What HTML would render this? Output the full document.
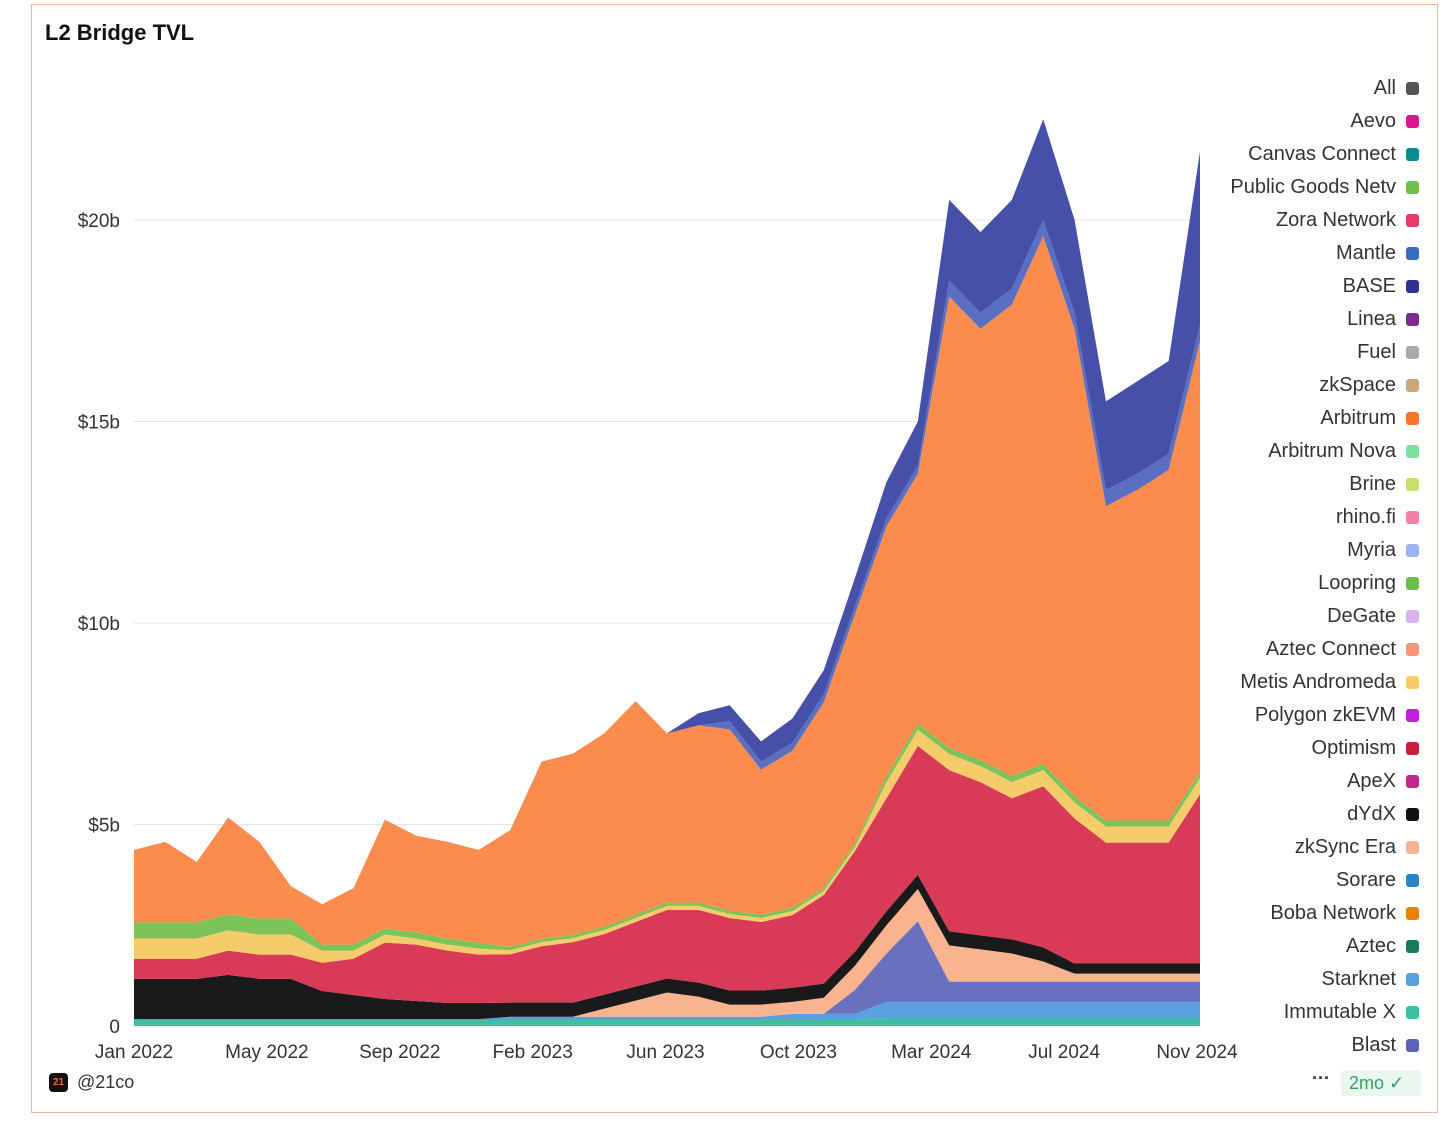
<!DOCTYPE html>
<html><head><meta charset="utf-8"><style>
body{margin:0;background:#fff;font-family:"Liberation Sans",sans-serif;}
#frame{position:absolute;left:31px;top:4px;width:1405px;height:1107px;border:1.5px solid #f2b3a3;}
#title{position:absolute;left:45px;top:20px;font-size:22px;font-weight:bold;color:#111;}
.leg{position:absolute;right:37px;font-size:20px;color:#333;height:24px;line-height:24px;white-space:nowrap;}
.leg i{display:inline-block;width:13px;height:13px;border-radius:3px;margin-left:10px;vertical-align:-1px;}
</style></head><body>
<div id="frame"></div>
<div id="title">L2 Bridge TVL</div>
<svg id="chart" width="1456" height="1130" style="position:absolute;left:0;top:0"></svg>
<div id="legend"></div>
<div style="position:absolute;left:49px;top:1073px;width:19px;height:19px;background:#111;border-radius:4px;color:#f26b1d;font-size:10px;font-weight:bold;text-align:center;line-height:19px;">21</div>
<div style="position:absolute;left:77px;top:1072px;font-size:18px;color:#333;">@21co</div>
<div style="position:absolute;left:1312px;top:1068px;font-size:18px;color:#333;font-weight:bold;">···</div>
<div style="position:absolute;left:1341px;top:1070px;width:80px;height:26px;background:#eaf7ee;border-radius:4px;color:#2ea35a;font-size:18px;line-height:26px;padding-left:8px;box-sizing:border-box;">2mo ✓</div>
<script>
const months=["Jan22","Feb22","Mar22","Apr22","May22","Jun22","Jul22","Aug22","Sep22","Oct22","Nov22","Dec22","Jan23","Feb23","Mar23","Apr23","May23","Jun23","Jul23","Aug23","Sep23","Oct23","Nov23","Dec23","Jan24","Feb24","Mar24","Apr24","May24","Jun24","Jul24","Aug24","Sep24","Oct24","Nov24"];
const immutableX=[.15,.15,.15,.15,.15,.15,.15,.15,.15,.15,.15,.15,.15,.15,.15,.15,.15,.15,.15,.15,.15,.15,.15,.15,.2,.2,.2,.2,.2,.2,.2,.2,.2,.2,.2];
const starknet=[.02,.02,.02,.02,.02,.02,.02,.02,.02,.02,.02,.02,.08,.08,.08,.08,.08,.08,.08,.08,.08,.15,.15,.15,.4,.4,.4,.4,.4,.4,.4,.4,.4,.4,.4];
const blast=[0,0,0,0,0,0,0,0,0,0,0,0,0,0,0,0,0,0,0,0,0,0,0,.6,1.2,2.0,.5,.5,.5,.5,.5,.5,.5,.5,.5];
const zksync=[0,0,0,0,0,0,0,0,0,0,0,0,0,0,0,.2,.4,.6,.5,.3,.3,.3,.4,.6,.7,.8,.9,.8,.7,.5,.2,.2,.2,.2,.2];
const dydx=[1.0,1.0,1.0,1.1,1.0,1.0,.7,.6,.5,.45,.4,.4,.35,.35,.35,.35,.35,.35,.35,.35,.35,.35,.35,.35,.35,.35,.35,.35,.35,.35,.25,.25,.25,.25,.25];
const optimism=[.5,.5,.5,.6,.6,.6,.7,.9,1.4,1.4,1.3,1.2,1.2,1.4,1.5,1.5,1.6,1.7,1.8,1.8,1.7,1.8,2.2,2.5,2.8,3.2,4.0,3.8,3.5,4.0,3.6,3.0,3.0,3.0,4.2];
const metis=[.5,.5,.5,.5,.5,.5,.3,.2,.2,.15,.15,.15,.1,.1,.1,.1,.1,.1,.1,.1,.1,.1,.1,.1,.4,.4,.4,.4,.4,.4,.4,.4,.4,.4,.4];
const loopring=[.4,.4,.4,.4,.4,.4,.15,.15,.15,.15,.15,.15,.08,.08,.08,.08,.08,.08,.08,.08,.08,.08,.08,.08,.15,.15,.15,.15,.15,.15,.15,.15,.15,.15,.15];
const arbitrum=[1.8,2.0,1.5,2.4,1.9,.8,1.0,1.4,2.7,2.4,2.4,2.3,2.9,4.4,4.5,4.8,5.3,4.2,4.4,4.5,3.6,3.9,4.6,5.7,6.2,6.2,11.2,10.7,11.7,13.1,11.6,7.8,8.2,8.7,10.7];
const mantle=[0,0,0,0,0,0,0,0,0,0,0,0,0,0,0,0,0,0,0,.2,.2,.2,.2,.2,.2,.2,.4,.4,.4,.4,.4,.4,.4,.4,.4];
const base=[0,0,0,0,0,0,0,0,0,0,0,0,0,0,0,0,0,0,.3,.4,.5,.6,.6,.7,.9,1.1,2.0,2.0,2.2,2.5,2.3,2.2,2.3,2.3,4.3];
const yTicks=[0,5,10,15,20];
const yTickLabels=["0","$5b","$10b","$15b","$20b"];
const xTickLabels=["Jan 2022","May 2022","Sep 2022","Feb 2023","Jun 2023","Oct 2023","Mar 2024","Jul 2024","Nov 2024"];
const legendNames=["All","Aevo","Canvas Connect","Public Goods Netv","Zora Network","Mantle","BASE","Linea","Fuel","zkSpace","Arbitrum","Arbitrum Nova","Brine","rhino.fi","Myria","Loopring","DeGate","Aztec Connect","Metis Andromeda","Polygon zkEVM","Optimism","ApeX","dYdX","zkSync Era","Sorare","Boba Network","Aztec","Starknet","Immutable X","Blast"];
const legendColors=["#555","#d6188a","#0d8a8f","#6fbf4a","#e83a6a","#3a6bbf","#2e3192","#7b2d8e","#aaa","#c9a87a","#f4762f","#7ee0a0","#c5e070","#f57fa7","#9db4f0","#6abf4a","#d9b0f0","#f49870","#f6cc6a","#c21ee0","#c8203f","#c2288a","#111","#f9b48f","#2a84c6","#e8820e","#1c7a5a","#5aa0e0","#3fbf9f","#5a63b8"];
const series=[[immutableX,"#3fbf9f"],[starknet,"#5aa0e0"],[blast,"#6a70c0"],[zksync,"#f9b48f"],[dydx,"#1a1a1a"],[optimism,"#d93a58"],[metis,"#f6cc6a"],[loopring,"#7cc35a"],[arbitrum,"#fb8c4e"],[mantle,"#5a6fc0"],[base,"#4650a8"]];
const NS="http://www.w3.org/2000/svg";
const svg=document.getElementById('chart');
const x0=134,x1=1200,y0=1026,pxPerB=40.3;
const xs=i=>x0+(x1-x0)*i/(months.length-1);
const ys=v=>y0-v*pxPerB;
yTicks.forEach((t,k)=>{
 if(t>0){const l=document.createElementNS(NS,'line');
 l.setAttribute('x1',x0);l.setAttribute('x2',x1);l.setAttribute('y1',ys(t));l.setAttribute('y2',ys(t));l.setAttribute('stroke','#e4e4e4');
 
 
 svg.appendChild(l);}
 const tx=document.createElementNS(NS,'text');
 tx.setAttribute('x',120);tx.setAttribute('y',ys(t)+7);tx.setAttribute('text-anchor','end');tx.setAttribute('font-size','19');tx.setAttribute('fill','#333');tx.setAttribute('font-family','Liberation Sans');
 tx.textContent=yTickLabels[k];
 
 
 svg.appendChild(tx);
});
xTickLabels.forEach((t,k)=>{
 const tx=document.createElementNS(NS,'text');
 tx.setAttribute('x',x0+k*(1197-x0)/(xTickLabels.length-1));tx.setAttribute('y',1058);tx.setAttribute('text-anchor','middle');tx.setAttribute('font-size','19');tx.setAttribute('fill','#333');tx.setAttribute('font-family','Liberation Sans');
 tx.textContent=t;
 
 
 svg.appendChild(tx);
});
const cum=months.map(()=>0);
series.forEach(([vals,col])=>{
 const lower=cum.slice();
 vals.forEach((v,i)=>cum[i]+=v);
 let d='M'+months.map((m,i)=>xs(i)+','+ys(cum[i])).join('L');
 for(let i=months.length-1;i>=0;i--)d+='L'+xs(i)+','+ys(lower[i]);
 const p=document.createElementNS(NS,'path');
 p.setAttribute('d',d+'Z');p.setAttribute('fill',col);
 
 
 svg.appendChild(p);
});
const lg=document.getElementById('legend');
legendNames.forEach((n,k)=>{
 const d=document.createElement('div');d.className='leg';d.style.top=(76+k*33)+'px';
 d.innerHTML=n+'<i style="background:'+legendColors[k]+'"></i>';
 
 
 lg.appendChild(d);
});
</script>
</body></html>
